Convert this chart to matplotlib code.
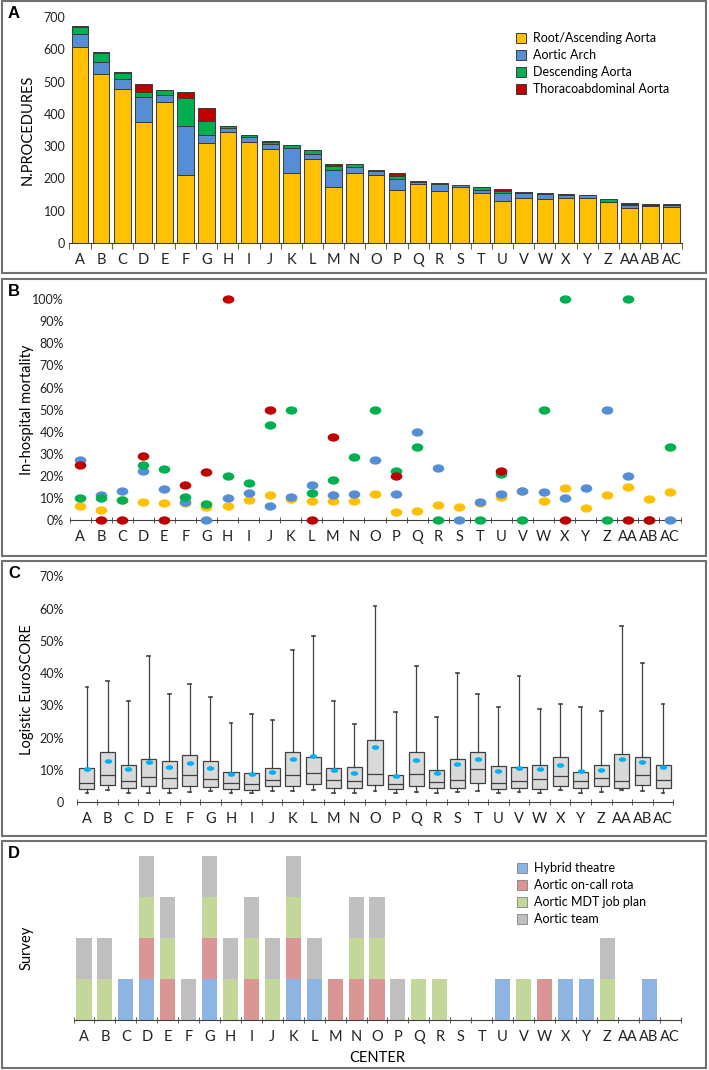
import numpy as np
import matplotlib
matplotlib.use("Agg")
import matplotlib.pyplot as plt
from matplotlib.markers import MarkerStyle
from matplotlib.transforms import Affine2D
from matplotlib.patches import Rectangle, Patch
from matplotlib.ticker import FuncFormatter, MultipleLocator

plt.rcParams['font.family'] = ['Lato', 'DejaVu Sans']

centers = ['A', 'B', 'C', 'D', 'E', 'F', 'G', 'H', 'I', 'J', 'K', 'L', 'M', 'N', 'O',
           'P', 'Q', 'R', 'S', 'T', 'U', 'V', 'W', 'X', 'Y', 'Z', 'AA', 'AB', 'AC']

# Panel A - number of procedures by segment
root_asc = [608, 524, 477, 374, 437, 212, 310, 343, 312, 290, 216, 260, 173, 218, 211,
            163, 183, 162, 172, 155, 129, 140, 137, 140, 140, 126, 109, 115, 110]
arch = [38, 36, 30, 78, 22, 149, 24, 12, 17, 16, 77, 17, 53, 18, 11,
        35, 5, 22, 8, 10, 26, 14, 16, 10, 9, 2, 10, 0, 9]
descending = [22, 30, 21, 15, 14, 87, 43, 6, 6, 7, 10, 11, 11, 8, 4,
              9, 3, 1, 0, 9, 5, 3, 2, 1, 0, 7, 1, 3, 3]
thoraco = [4, 1, 1, 26, 2, 20, 42, 1, 0, 2, 0, 1, 8, 0, 0,
           10, 0, 0, 0, 0, 7, 0, 0, 2, 0, 0, 3, 4, 0]

# Panel B - in-hospital mortality (%) by segment
nan = np.nan
mort_root = [6.6, 4.8, 9.3, 8.1, 7.8, 8.0, 6.0, 6.3, 9.3, 11.6, 9.5, 8.9, 8.7, 8.7, 12.0,
             3.8, 4.1, 6.9, 6.0, 8.0, 10.7, 13.2, 8.9, 14.6, 5.7, 11.3, 14.9, 9.6, 13.0]
mort_arch = [27.1, 11.6, 13.3, 22.3, 14.3, 8.1, 0, 9.9, 12.5, 6.6, 10.4, 15.8, 11.6, 11.9, 27.4,
             11.9, 40.0, 23.8, 0, 8.4, 12.0, 13.4, 12.7, 9.9, 14.5, 50.0, 20.0, nan, 0]
mort_desc = [9.9, 10.2, 9.3, 25.0, 23.0, 10.4, 7.2, 20.0, 16.7, 42.9, 50.0, 12.5, 18.1, 28.6, 50.0,
             22.4, 33.3, 0, nan, 0, 20.8, 0, 50.0, 100, nan, 0, 100, 0, 33.3]
mort_thoraco = [25.0, 0, 0, 29.2, 0, 15.8, 22.0, 100, nan, 50.0, nan, 0, 37.7, nan, nan,
                20.0, nan, nan, nan, nan, 22.4, nan, nan, 0, nan, nan, 0, 0, nan]

# Panel C - logistic EuroSCORE (%) distribution
es_low = [2.9, 3.9, 3.0, 3.0, 3.0, 3.1, 3.4, 2.8, 3.0, 3.6, 3.6, 3.9, 3.0, 2.9, 3.4,
          2.9, 3.3, 2.8, 3.1, 3.4, 2.9, 3.1, 2.8, 3.9, 2.9, 3.2, 3.7, 3.6, 2.9]
es_q1 = [4.0, 5.4, 4.4, 4.9, 4.5, 5.0, 4.6, 4.0, 3.9, 4.9, 5.1, 5.7, 4.3, 4.3, 5.5,
         4.1, 4.9, 4.3, 4.5, 5.9, 4.1, 4.5, 4.2, 5.2, 4.4, 4.9, 4.5, 5.3, 4.5]
es_median = [6.1, 8.5, 6.7, 7.7, 7.4, 8.5, 7.1, 5.9, 5.7, 6.9, 8.5, 9.0, 6.8, 6.5, 8.7,
             5.8, 8.7, 6.2, 6.8, 10.2, 5.9, 6.5, 7.2, 8.1, 6.5, 7.5, 6.6, 8.5, 6.8]
es_q3 = [10.6, 15.7, 11.6, 13.4, 12.7, 14.5, 12.9, 9.5, 9.2, 10.7, 15.7, 14.1, 10.7, 10.8, 19.3,
         8.4, 15.7, 10.0, 13.3, 15.6, 11.2, 10.9, 11.5, 13.9, 9.3, 11.4, 15.1, 13.9, 11.7]
es_high = [35.7, 37.7, 31.5, 45.3, 33.6, 36.5, 32.6, 24.5, 27.4, 25.4, 47.2, 51.6, 31.5, 24.4, 60.8,
           27.9, 42.2, 26.5, 39.9, 33.6, 29.6, 39.2, 28.9, 30.4, 29.6, 28.3, 54.5, 43.3, 30.4]
es_mean = [10.4, 12.9, 10.4, 12.6, 10.9, 12.2, 10.7, 8.8, 8.7, 9.4, 13.5, 14.2, 10.0, 9.2, 17.1,
           8.3, 13.0, 9.0, 11.8, 13.3, 9.7, 10.7, 10.4, 11.5, 9.6, 10.1, 13.4, 12.6, 10.8]

# Panel D - survey answers (1 = yes)
hybrid = [0, 0, 1, 1, 0, 0, 1, 0, 0, 0, 1, 1, 0, 0, 0, 0, 0, 0, 0, 0, 1, 0, 0, 1, 1, 0, 0, 1, 0]
oncall = [0, 0, 0, 1, 1, 0, 1, 0, 1, 0, 1, 0, 1, 1, 1, 0, 0, 0, 0, 0, 0, 0, 1, 0, 0, 0, 0, 0, 0]
mdt_plan = [1, 1, 0, 1, 1, 0, 1, 1, 1, 1, 1, 0, 0, 1, 1, 0, 1, 1, 0, 0, 0, 1, 0, 0, 0, 1, 0, 0, 0]
team = [1, 1, 0, 1, 1, 1, 1, 1, 1, 1, 1, 1, 0, 1, 1, 1, 0, 0, 0, 0, 0, 0, 0, 0, 0, 1, 0, 0, 0]

YELLOW = '#FFC000'
BLUE = '#558ED5'
GREEN = '#00B050'
RED = '#C00000'
W, H = 709, 1070


def ax_at(fig, left, right, top, bottom):
    #Place an axes using pixel positions
    return fig.add_axes([left / W, 1 - bottom / H, (right - left) / W, (bottom - top) / H])


def style_cat_axis(ax, n, direction='out'):
    #Excel-like category axis with ticks between categories
    ax.set_xlim(-0.5, n - 0.5)
    ax.set_xticks(np.arange(n))
    ax.set_xticklabels(centers, fontsize=10.5, color='#222222')
    ax.set_xticks(np.arange(n + 1) - 0.5, minor=True)
    ax.tick_params(axis='x', which='major', length=0, pad=7)
    ax.tick_params(axis='x', which='minor', length=4, direction=direction, color='#404040')
    for s in ['top', 'right', 'left']:
        ax.spines[s].set_visible(False)
    ax.spines['bottom'].set_color('#404040')
    ax.tick_params(axis='y', length=0, labelsize=9, colors='#222222')


def set_ylab(ax, text, xpix, left, width, ypos=0.5):
    #Y label centred on a given pixel column
    ax.set_ylabel(text, fontsize=10.5, va='center')
    ax.yaxis.set_label_coords((xpix - left) / width, ypos)


def main():
    fig = plt.figure(figsize=(W / 100, H / 100), dpi=100)
    x = np.arange(len(centers))

    #Panel borders and letters
    for top, bottom, letter in [(1, 273, 'A'), (279, 556, 'B'), (561, 836, 'C'), (841, 1068, 'D')]:
        fig.patches.append(Rectangle((1.5 / W, 1 - bottom / H), (706 - 1.5) / W, (bottom - top) / H,
                                     transform=fig.transFigure, fill=False, edgecolor='#707070', linewidth=1.5))
        fig.text(8 / W, 1 - (top + 13) / H, letter, fontsize=12, fontweight='bold',
                 family='Liberation Sans', va='center', ha='left')

    #Panel A
    ax = ax_at(fig, 69.4, 682.3, 17, 243)
    bottom = np.zeros(len(centers))
    for vals, col, lab in [(root_asc, YELLOW, 'Root/Ascending Aorta'), (arch, BLUE, 'Aortic Arch'),
                           (descending, GREEN, 'Descending Aorta'), (thoraco, RED, 'Thoracoabdominal Aorta')]:
        vals = np.array(vals)
        lw = np.where(vals > 0, 0.7, 0)
        ax.bar(x, vals, 0.79, bottom=bottom, color=col, edgecolor='#3a3a3a', linewidth=lw, label=lab)
        bottom += vals
    style_cat_axis(ax, len(centers), 'out')
    ax.set_ylim(0, 700)
    ax.yaxis.set_major_locator(MultipleLocator(100))
    ax.tick_params(axis='y', pad=3)
    set_ylab(ax, 'N.PROCEDURES', 28, 69.4, 612.9)
    ax.legend(loc='upper left', bbox_to_anchor=(0.718, 0.96), frameon=False, fontsize=9,
              handlelength=0.8, handleheight=0.8, handletextpad=0.6, labelspacing=0.4, borderpad=0)

    #Panel B
    ax = ax_at(fig, 69.5, 680.5, 299, 520.3)
    ell = MarkerStyle('o', transform=Affine2D().scale(1.4, 1.0))
    for vals, col in [(mort_root, YELLOW), (mort_arch, BLUE), (mort_desc, GREEN), (mort_thoraco, RED)]:
        ax.scatter(x, np.array(vals) / 100, s=36, marker=ell, color=col, linewidths=0, clip_on=False, zorder=3)
    style_cat_axis(ax, len(centers), 'inout')
    ax.set_ylim(0, 1.0)
    ax.yaxis.set_major_locator(MultipleLocator(0.1))
    ax.yaxis.set_major_formatter(FuncFormatter(lambda v, p: f'{v:.0%}'))
    ax.tick_params(axis='y', pad=4)
    set_ylab(ax, 'In-hospital mortality', 27, 69.5, 611)

    #Panel C
    ax = ax_at(fig, 76.7, 673.3, 576.3, 802.3)
    stats = []
    for i in range(len(centers)):
        stats.append({'whislo': es_low[i] / 100, 'q1': es_q1[i] / 100, 'med': es_median[i] / 100,
                      'q3': es_q3[i] / 100, 'whishi': es_high[i] / 100, 'fliers': []})
    ax.bxp(stats, positions=x, widths=0.73, patch_artist=True, showfliers=False, capwidths=0.14,
           boxprops=dict(facecolor='#D9D9D9', edgecolor='#404040', linewidth=0.9),
           medianprops=dict(color='#404040', linewidth=0.9),
           whiskerprops=dict(color='#404040', linewidth=0.9),
           capprops=dict(color='#404040', linewidth=1.2))
    ell2 = MarkerStyle('o', transform=Affine2D().scale(1.6, 1.0))
    ax.scatter(x, np.array(es_mean) / 100, s=11, marker=ell2, color='#00B0F0', linewidths=0, zorder=4)
    style_cat_axis(ax, len(centers), 'inout')
    ax.set_ylim(0, 0.70)
    ax.yaxis.set_major_locator(MultipleLocator(0.1))
    ax.yaxis.set_major_formatter(FuncFormatter(lambda v, p: '0' if abs(v) < 1e-9 else f'{v:.0%}'))
    ax.tick_params(axis='y', pad=9)
    set_ylab(ax, 'Logistic EuroSCORE', 27, 76.7, 596.6)

    #Panel D
    ax = ax_at(fig, 73.5, 680.5, 856, 1020)
    bottom = np.zeros(len(centers))
    handles = []
    for vals, col, lab in [(hybrid, '#8DB4E2', 'Hybrid theatre'), (oncall, '#DA9694', 'Aortic on-call rota'),
                           (mdt_plan, '#C4D79B', 'Aortic MDT job plan'), (team, '#BFBFBF', 'Aortic team')]:
        vals = np.array(vals)
        ax.bar(x, vals, 0.72, bottom=bottom, color=col, linewidth=0)
        bottom += vals
        handles.append(Patch(facecolor=col, edgecolor='#808080', linewidth=0.6, label=lab))
    style_cat_axis(ax, len(centers), 'inout')
    ax.set_ylim(0, 4)
    ax.set_yticks([])
    set_ylab(ax, 'Survey', 27, 73.5, 607, 0.44)
    ax.set_xlabel('CENTER', fontsize=10.5, labelpad=5)
    ax.legend(handles=handles, loc='upper left', bbox_to_anchor=(0.72, 1.0), frameon=False, fontsize=9,
              handlelength=0.8, handleheight=0.8, handletextpad=0.6, labelspacing=0.4, borderpad=0)

    fig.savefig('out.png', dpi=100)


main()
